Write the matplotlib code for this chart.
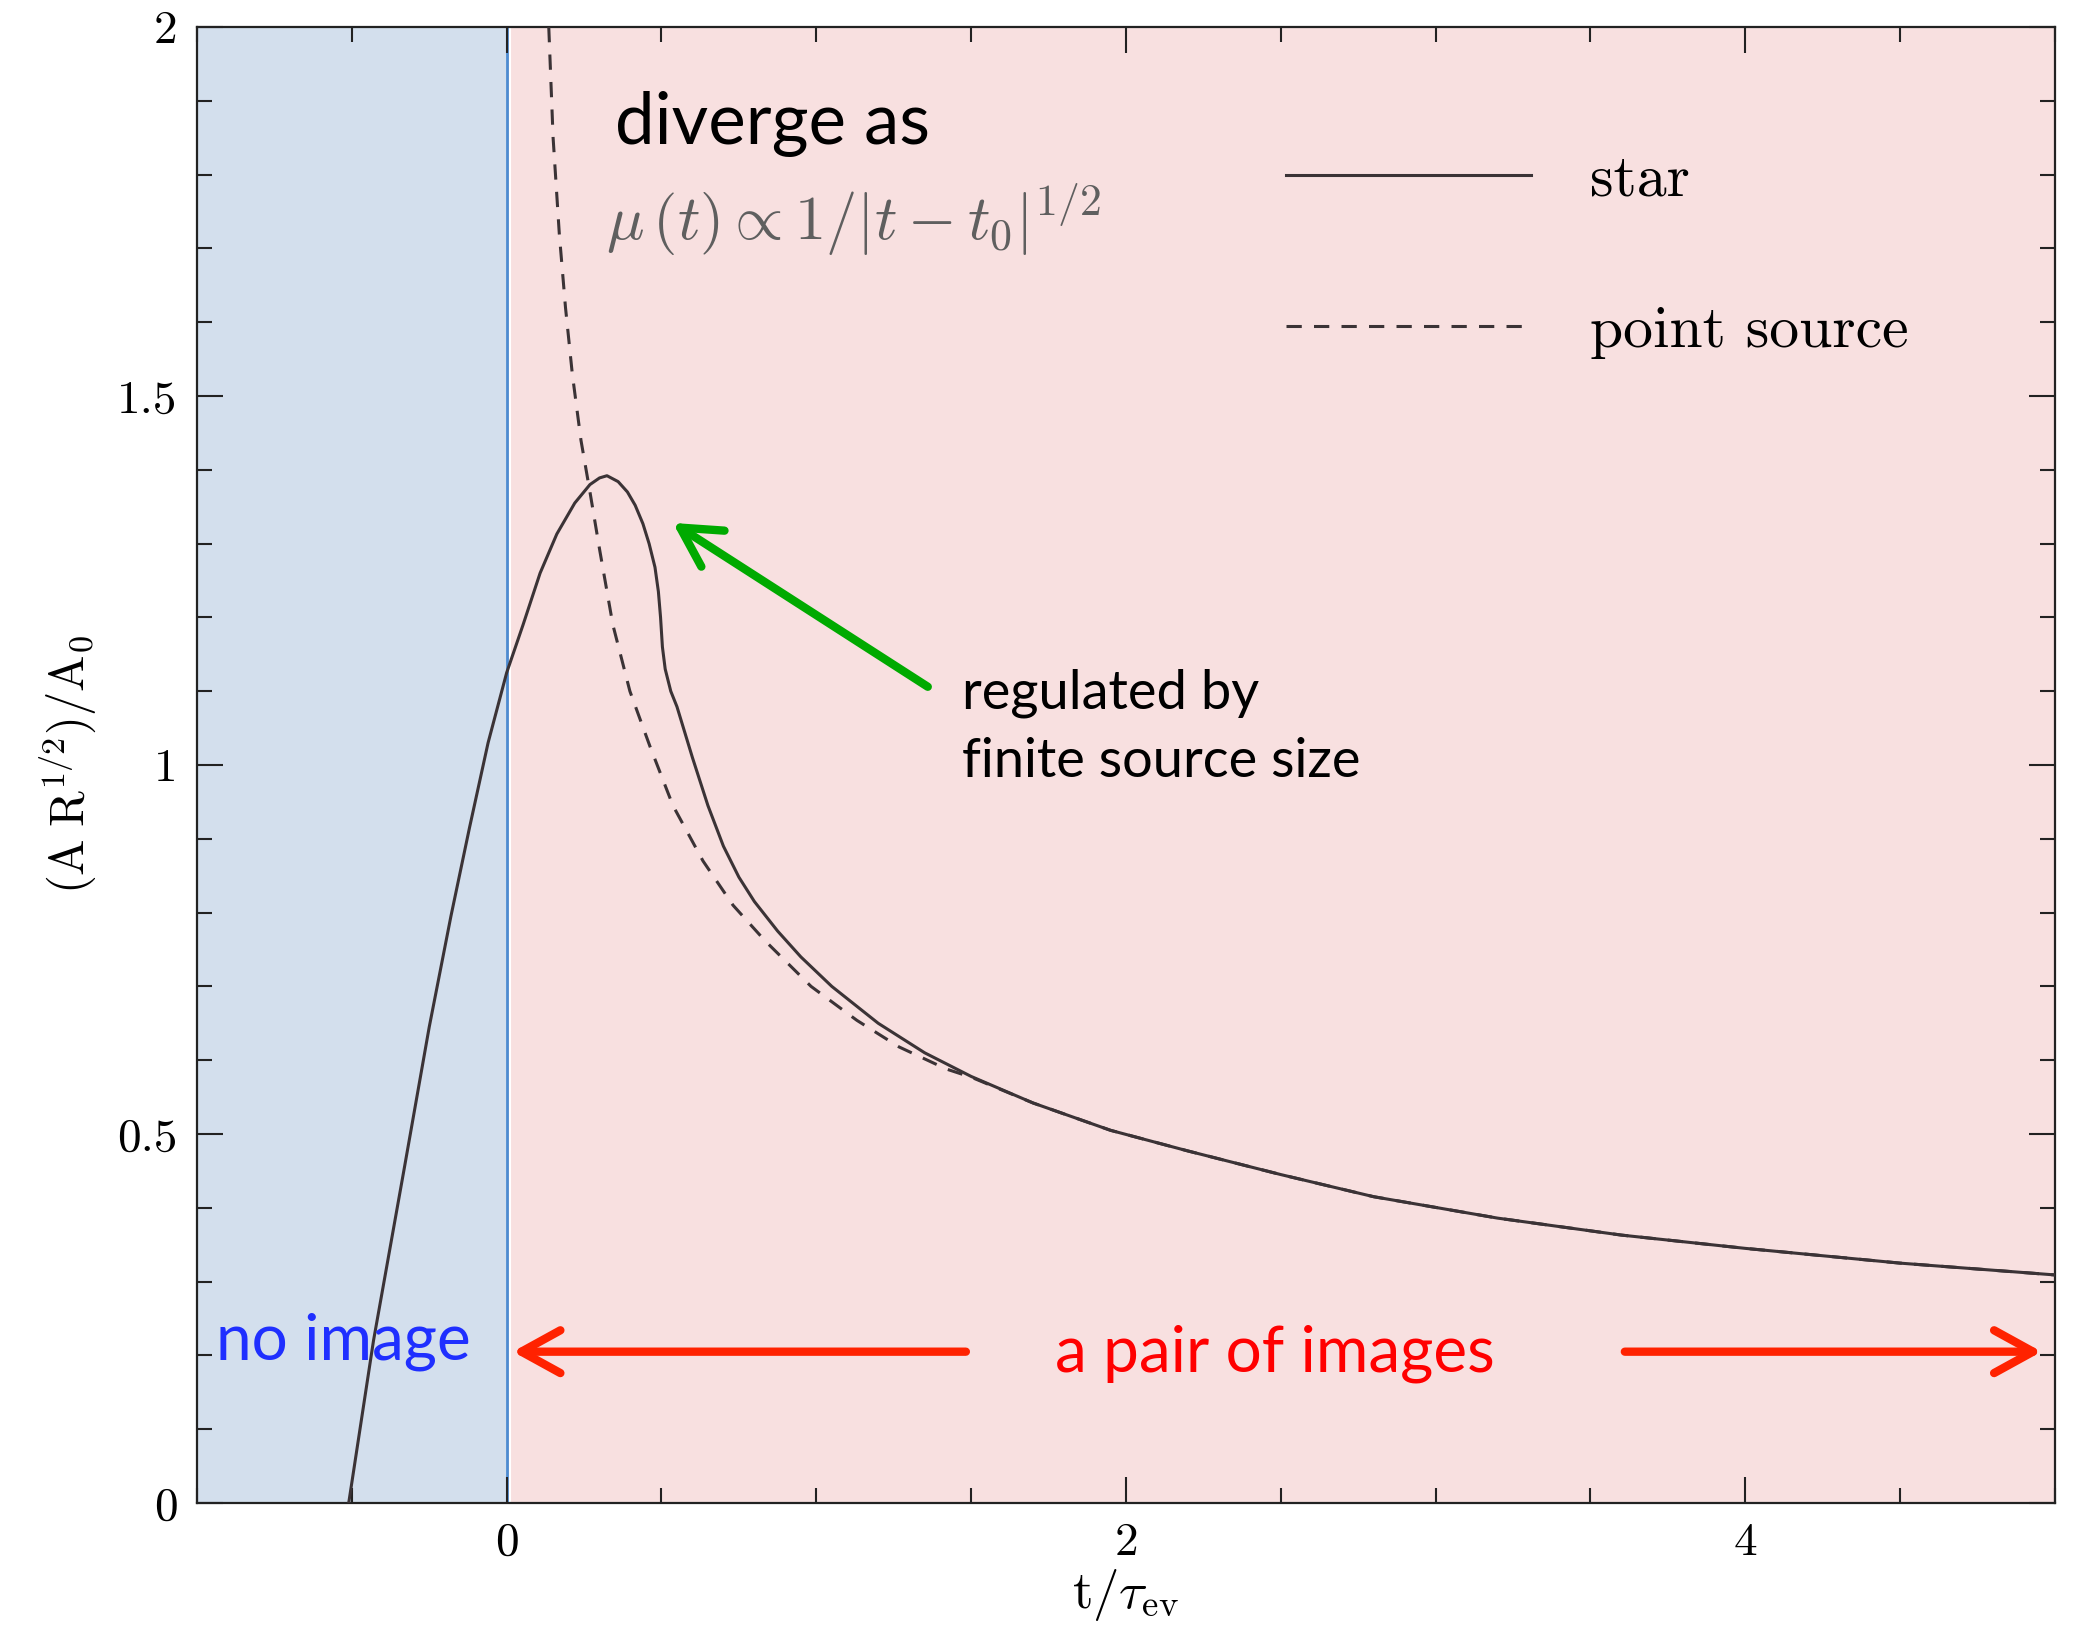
import matplotlib.pyplot as plt
from matplotlib.ticker import MultipleLocator, FormatStrFormatter

# finite-size star crossing a fold caustic
star_t = [-0.51, -0.43, -0.33, -0.25, -0.18, -0.12, -0.06, 0.0, 0.053, 0.108,
          0.162, 0.22, 0.269, 0.30, 0.324, 0.36, 0.39, 0.415, 0.44, 0.46,
          0.479, 0.49, 0.497, 0.503, 0.512, 0.53, 0.55, 0.60, 0.65, 0.70,
          0.75, 0.80, 0.875, 0.95, 1.05, 1.2, 1.35, 1.5, 1.7, 1.95,
          2.2, 2.5, 2.8, 3.2, 3.6, 4.0, 4.5, 5.0]
star_mag = [0.0, 0.22, 0.455, 0.645, 0.795, 0.915, 1.03, 1.125, 1.19, 1.26,
            1.313, 1.355, 1.38, 1.389, 1.392, 1.384, 1.37, 1.352, 1.327, 1.30,
            1.268, 1.235, 1.20, 1.16, 1.13, 1.10, 1.079, 1.01, 0.945, 0.89,
            0.848, 0.815, 0.775, 0.74, 0.70, 0.65, 0.61, 0.578, 0.542, 0.505,
            0.477, 0.445, 0.415, 0.386, 0.363, 0.345, 0.325, 0.309]

# point source, diverging at the caustic
point_t = [0.136, 0.15, 0.17, 0.19, 0.212, 0.24, 0.269, 0.301, 0.343, 0.398,
           0.463, 0.537, 0.634, 0.731, 0.834, 0.983, 1.131, 1.267, 1.42,
           1.5, 1.7, 1.95, 2.2, 2.5, 2.8, 3.2, 3.6, 4.0, 4.5, 5.0]
point_mag = [2.0, 1.85, 1.72, 1.62, 1.53, 1.44, 1.37, 1.29, 1.19, 1.10,
             1.025, 0.945, 0.87, 0.81, 0.762, 0.70, 0.654, 0.618, 0.588,
             0.577, 0.542, 0.505, 0.477, 0.445, 0.415, 0.386, 0.363, 0.345,
             0.325, 0.309]

t_range = (-1, 5)
mag_range = (0, 2)
caustic_t = 0

ink = '#3b3336'
head = '->,head_length=1.0,head_width=0.55'

plt.rcParams['font.family'] = 'cmr10'
plt.rcParams['mathtext.fontset'] = 'cm'
plt.rcParams['axes.formatter.use_mathtext'] = True

fig = plt.figure(figsize=(20.89, 16.28), dpi=100)
ax = fig.add_axes([0.0943, 0.0768, 0.8894, 0.9066])
ax.set_xlim(*t_range)
ax.set_ylim(*mag_range)

# shaded regions either side of the caustic
ax.axvspan(t_range[0], caustic_t, color='#d3dfed', lw=0, zorder=0)
ax.axvspan(caustic_t, t_range[1], color='#f8e0e0', lw=0, zorder=0)
ax.axvline(caustic_t + 0.012, color='white', lw=1.5, zorder=1)
ax.axvline(caustic_t, color='#4d8bd1', lw=2, zorder=1)

ax.plot(star_t, star_mag, color=ink, lw=2.2, label='star', zorder=3)
ax.plot(point_t, point_mag, color=ink, lw=2.2, ls=(0, (5, 4)),
        label='point source', zorder=3)

ax.xaxis.set_major_locator(MultipleLocator(2))
ax.xaxis.set_minor_locator(MultipleLocator(0.5))
ax.yaxis.set_major_locator(MultipleLocator(0.5))
ax.yaxis.set_minor_locator(MultipleLocator(0.1))
ax.xaxis.set_major_formatter(FormatStrFormatter('%g'))
ax.yaxis.set_major_formatter(FormatStrFormatter('%g'))
ax.tick_params(which='both', direction='in', top=True, right=True,
               color='#222222', width=1.5)
ax.tick_params(which='major', length=19, labelsize=34, pad=14)
ax.tick_params(which='minor', length=11)
for s in ax.spines.values():
    s.set_color('#222222')
    s.set_linewidth(1.6)

ax.set_xlabel(r'$\mathrm{t}/\tau_{\mathrm{ev}}$', fontsize=38, labelpad=2)
ax.set_ylabel(r'$(\mathrm{A\;R^{1/2}})/\mathrm{A_0}$', fontsize=35, labelpad=14)

ax.legend(loc='upper left', bbox_to_anchor=(0.586, 0.914), frameon=False,
          fontsize=43, handlelength=4.1, handletextpad=1.0, labelspacing=1.63,
          borderpad=0, borderaxespad=0)

# annotations
ax.text(0.35, 1.841, 'diverge as', family='Lato', fontsize=51, color='black')
ax.text(0.32, 1.711, r'$\mu\,(t) \propto 1/|t - t_0|^{1/2}$', fontsize=45,
        color='#5f5f5f')
ax.text(1.47, 1.076, 'regulated by', family='Lato', fontsize=39, color='black')
ax.text(1.47, 0.984, 'finite source size', family='Lato', fontsize=39,
        color='black')
ax.annotate('', xy=(0.537, 1.328), xytext=(1.36, 1.106),
            arrowprops=dict(arrowstyle=head, color='#00aa00', lw=6,
                            mutation_scale=28, shrinkA=0, shrinkB=0))

ax.text(-0.94, 0.195, 'no image', family='Lato', fontsize=46, color='#1f2fff')
ax.text(2.48, 0.178, 'a pair of images', family='Lato', fontsize=46,
        color='#ff0000', ha='center')
ax.annotate('', xy=(0.02, 0.205), xytext=(1.483, 0.205),
            arrowprops=dict(arrowstyle=head, color='#ff2200', lw=6,
                            mutation_scale=28, shrinkA=0, shrinkB=0))
ax.annotate('', xy=(4.957, 0.205), xytext=(3.611, 0.205),
            arrowprops=dict(arrowstyle=head, color='#ff2200', lw=6,
                            mutation_scale=28, shrinkA=0, shrinkB=0))

fig.savefig('out.png', dpi=100, facecolor='white')
